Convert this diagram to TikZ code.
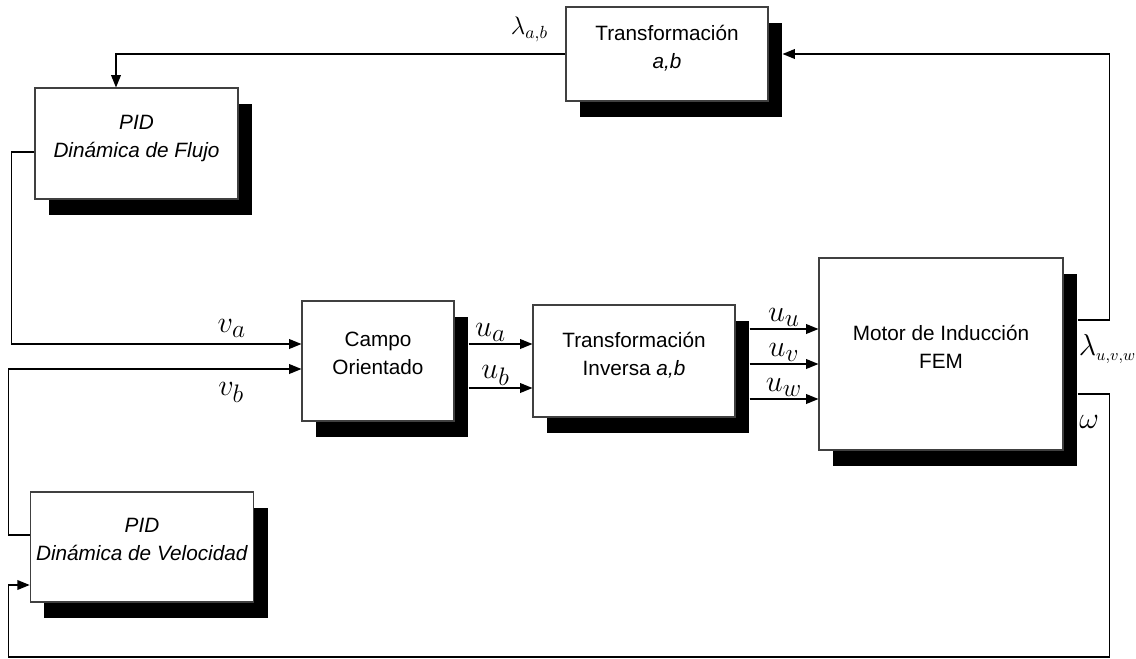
\documentclass[tikz,border=0pt]{standalone}
\usepackage{fontspec}
\setmainfont{Liberation Sans}
\usetikzlibrary{positioning,shadows,arrows.meta}

\begin{document}
\begin{tikzpicture}[node distance=1cm, auto, >={Triangle[length=7pt,width=5.5pt]}]
        \tikzstyle{bloque}=[draw=black!75, line width=0.6pt, rectangle, fill=white, align=center, text depth=0.3cm, font=\fontsize{11.8}{16}\selectfont, drop shadow={shadow xshift=0.28cm, shadow yshift=-0.32cm, fill=black, opacity=1}];
        \tikzstyle{senal}=[->, line width=0.8pt];
        \tikzstyle{etiq}=[inner sep=1pt, font=\fontsize{19}{21}\selectfont];

        \useasboundingbox (0,0) rectangle (22.72,-13.16);

        \node[bloque, minimum width=4.04cm, minimum height=1.88cm] (transf) at (13.34,-1.08) {Transformación\\\textit{a,b}};
        \node[bloque, minimum width=4.06cm, minimum height=2.22cm] (flujo) at (2.73,-2.87) {\textit{PID}\\\textit{Dinámica de Flujo}};
        \node[bloque, minimum width=3.04cm, minimum height=2.4cm] (campo) at (7.56,-7.22) {Campo\\Orientado};
        \node[bloque, minimum width=4.04cm, minimum height=2.24cm, right of=campo, xshift=4.12cm] (inv) {Transformación\\Inversa \textit{a,b}};
        \node[bloque, minimum width=4.88cm, minimum height=3.84cm, right of=inv, xshift=5.14cm, yshift=0.14cm] (motor) {Motor de Inducción\\FEM};
        \node[bloque, minimum width=4.36cm, minimum height=2.2cm] (vel) at (2.84,-10.94) {\textit{PID}\\\textit{Dinámica de Velocidad}};

        % salidas del motor
        \coordinate (lam) at ([shift={(0.28cm,0.68cm)}]motor.east);
        \coordinate (om) at ([shift={(0.28cm,-0.80cm)}]motor.east);
        \node[etiq, inner sep=0pt, anchor=west] (lamuvw) at ([shift={(0.3cm,0.1cm)}]motor.east) {$\lambda_{\scriptscriptstyle u,v,w}$};

        \draw[senal] (lam) -- ++(0.64,0) |- ([xshift=0.28cm]transf.east);
        \draw[senal] (transf.west) node[etiq, font=\fontsize{14}{16}\selectfont, above left=0.2cm and 0.3cm] {$\lambda_{a,b}$} -| ([xshift=-0.41cm]flujo.north);
        \draw[senal] (om) -- ++(0.64,0) node[etiq, below left=0.38cm and 0.16cm] {$\omega$} -- ++(0,-5.26) -| ([shift={(-0.42cm,-0.76cm)}]vel.west) -- ([yshift=-0.76cm]vel.west);

        % lazos PID
        \draw[senal] ([yshift=-0.17cm]flujo.west) -- ++(-0.46,0) |- ([yshift=0.34cm]campo.west) node[etiq, pos=0.88, above=0.08cm] {$v_a$};
        \draw[senal] ([yshift=0.24cm]vel.west) -- ++(-0.42,0) |- ([yshift=-0.16cm]campo.west) node[etiq, pos=0.88, below=0.22cm] {$v_b$};

        \coordinate (ua) at ([shift={(0.28cm,0.34cm)}]campo.east);
        \coordinate (ub) at ([shift={(0.28cm,-0.54cm)}]campo.east);
        \draw[senal] (ua) -- (ua -| inv.west) node[etiq, midway, above, xshift=-0.2cm] {$u_a$};
        \draw[senal] (ub) -- (ub -| inv.west) node[etiq, midway, above, xshift=-0.1cm] {$u_b$};

        \coordinate (cu) at ([shift={(0.28cm,0.64cm)}]inv.east);
        \coordinate (cv) at ([shift={(0.28cm,-0.06cm)}]inv.east);
        \coordinate (cw) at ([shift={(0.28cm,-0.76cm)}]inv.east);
        \draw[senal] (cu) -- (cu -| motor.west) node[etiq, midway, above] {$u_u$};
        \draw[senal] (cv) -- (cv -| motor.west) node[etiq, midway, above] {$u_v$};
        \draw[senal] (cw) -- (cw -| motor.west) node[etiq, midway, above] {$u_w$};
    \end{tikzpicture}
\end{document}
